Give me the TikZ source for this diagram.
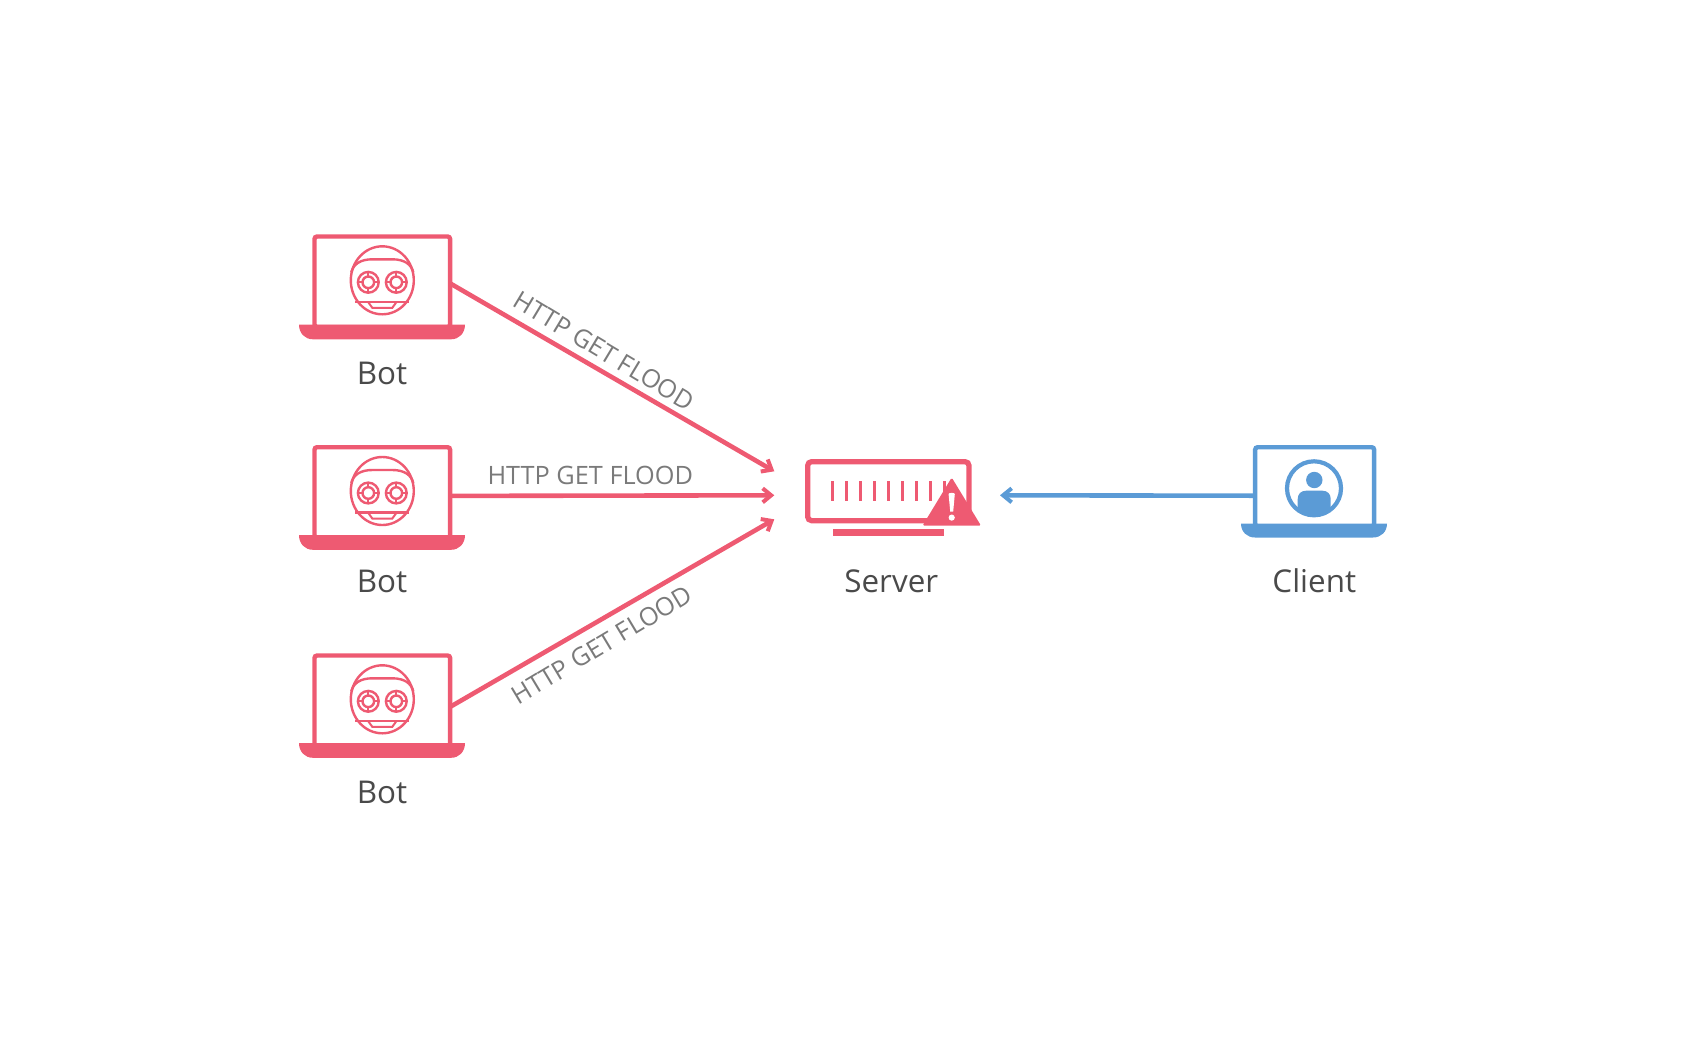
\documentclass[tikz,border=0pt]{standalone}
\usepackage{fontspec}
\setmainfont{Open Sans}
\usetikzlibrary{arrows.meta,calc}
\definecolor{pink}{HTML}{EE5A72}
\definecolor{sky}{HTML}{5B9BD6}
\definecolor{ink}{HTML}{4A4A4A}
\definecolor{flood}{HTML}{7A7A7A}
\tikzset{
  x=1pt,y=-1pt,
  screenbox/.style={draw=#1,line width=4.4pt,rounded corners=2.5pt,inner sep=0pt,outer sep=0pt,fill=white},
  botscreen/.style={screenbox=pink,minimum width=135.6pt,minimum height=90.5pt},
  clientscreen/.style={screenbox=sky,minimum width=119pt,minimum height=79pt},
  caption/.style={font=\fontsize{31.4}{36}\selectfont,text=ink,anchor=base,inner sep=0pt},
  floodlabel/.style={font=\fontsize{25.3}{30}\selectfont,text=flood,anchor=base,inner sep=0pt},
  link/.style={draw=#1,line width=4.6pt,-{Straight Barb[length=8.5pt,width=14pt,line width=4pt]}},
  pics/botface/.style={code={
    \begin{scope}[draw=pink,line width=2.4pt]
      \draw (0,46) ellipse [x radius=31.5,y radius=34];
      \draw (-31,38) .. controls (-29,30) and (-22,25) .. (-10,25) -- (10,25) .. controls (22,25) and (29,30) .. (31,38);
      \draw (-27,67.5) -- (27,67.5);
      \draw[line width=2pt] (-14,68) -- (-10,73.5) -- (10,73.5) -- (14,68);
      \foreach \sx in {-14,14}{
        \draw (\sx,48) circle (10.4);
        \draw (\sx,48) circle (5.8);
        \foreach \dx/\dy in {1/0,-1/0,0/1,0/-1}
          \draw[line width=1.8pt] ({\sx+5.8*\dx},{48+5.8*\dy}) -- ({\sx+10.4*\dx},{48+10.4*\dy});
      }
    \end{scope}
  }},
  pics/laptopbase/.style args={#1/#2/#3}{code={
    \fill[#1] (-#2,0) .. controls (-#2,#3*0.6) and (-#2+6,#3) .. (-#2+14,#3) -- (#2-14,#3) .. controls (#2-6,#3) and (#2,#3*0.6) .. (#2,0) -- cycle;
  }},
}
\begin{document}
\begin{tikzpicture}
\useasboundingbox (0,0) rectangle (1695,1037);

% bots
\node[botscreen] (bot1) at (382.3,281.75) {};
\node[botscreen] (bot2) at (382.3,492.45) {};
\node[botscreen] (bot3) at (382.3,700.75) {};
\pic at (382.3,234.3) {botface};
\pic at (382.3,445) {botface};
\pic at (382.3,653.3) {botface};
\pic at (382,324.5) {laptopbase={pink/83/14.8}};
\pic at (382,535) {laptopbase={pink/83/14.8}};
\pic at (382,743) {laptopbase={pink/83/14.8}};
\node[caption] (botlabel1) at (382,384) {Bot};
\node[caption] (botlabel2) at (382,592.4) {Bot};
\node[caption] (botlabel3) at (382,803) {Bot};

% server: the invisible node marks where the connectors arrive
\node[minimum width=225.7pt,minimum height=48pt,inner sep=0pt,outer sep=0pt] (server) at (887.15,495.3) {};
\draw[pink,line width=5.3pt,rounded corners=4pt] (807.65,461.65) rectangle (969,520.65);
\fill[pink] (833,529) rectangle (943.7,535.7);
\foreach \tx in {832.3,846.3,860.3,874.3,888.3,902.3,916.3,930.3,944.3}
  \draw[pink,line width=3.5pt] (\tx,481) -- (\tx,501.3);
\fill[pink,rounded corners=1.5pt] (951.7,477.5) -- (981,525.7) -- (922.5,525.7) -- cycle;
\fill[white] (948.6,494) .. controls (948.6,492.5) and (954.8,492.5) .. (954.8,494) -- (953.2,511.5) -- (950.2,511.5) -- cycle;
\fill[white] (951.7,517.6) circle (3.1);
\node[caption] (serverlabel) at (891.3,592.4) {Server};

% client
\node[clientscreen] (client) at (1314.65,486.7) {};
\begin{scope}
  \clip (1314,488.3) circle (26);
  \fill[sky] (1297.7,525) -- (1297.7,499) .. controls (1297.7,494) and (1301,490.7) .. (1306,490.7) -- (1322.5,490.7) .. controls (1327.5,490.7) and (1330.7,494) .. (1330.7,499) -- (1330.7,525) -- cycle;
\end{scope}
\draw[sky,line width=4.2pt] (1314,488.3) circle (27);
\fill[sky] (1314.3,480) circle (8.2);
\pic at (1314,523.5) {laptopbase={sky/73/14}};
\node[caption] (clientlabel) at (1314.3,592.4) {Client};

% connectors
\draw[link=pink] ([yshift=-1.6pt]bot1.east) -- (server.north west);
\draw[link=pink] ([yshift=-3.45pt]bot2.east) -- (server.west);
\draw[link=pink] ([yshift=-6.15pt]bot3.east) -- (server.south west);
\draw[link=sky] ([yshift=-9pt]client.west) -- (server.east);

\node[floodlabel,rotate=-31] (flood1) at (599.5,358.7) {HTTP GET FLOOD};
\node[floodlabel] (flood2) at (590.3,484.5) {HTTP GET FLOOD};
\node[floodlabel,rotate=31] (flood3) at (606.5,652.5) {HTTP GET FLOOD};
\end{tikzpicture}
\end{document}
